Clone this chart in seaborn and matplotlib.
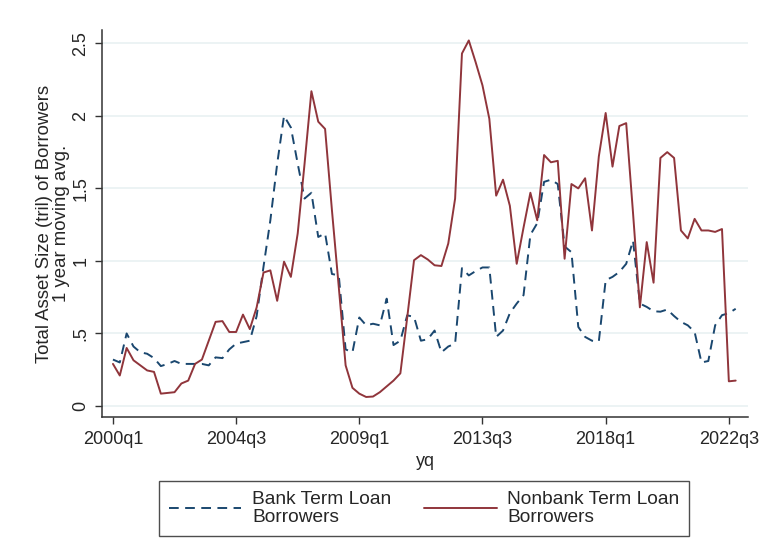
import matplotlib
matplotlib.use("Agg")
import matplotlib.pyplot as plt
import seaborn as sns
import pandas as pd
import numpy as np

# quarterly periods 2000q1 .. 2022q4
years = list(range(2000, 2023))
quarters = [f"{y}q{q}" for y in years for q in (1, 2, 3, 4)]

bank = [0.32, 0.30, 0.50, 0.41, 0.37, 0.36, 0.33, 0.275, 0.29, 0.31,
        0.29, 0.29, 0.29, 0.29, 0.28, 0.335, 0.33, 0.39, 0.43, 0.44,
        0.45, 0.62, 0.96, 1.28, 1.67, 2.00, 1.92, 1.67, 1.43, 1.47,
        1.165, 1.19, 0.91, 0.90, 0.39, 0.37, 0.61, 0.556, 0.567, 0.556,
        0.74, 0.42, 0.45, 0.625, 0.614, 0.45, 0.46, 0.52, 0.37, 0.41,
        0.43, 0.95, 0.90, 0.93, 0.955, 0.955, 0.476, 0.52, 0.64, 0.706,
        0.764, 1.18, 1.26, 1.545, 1.56, 1.53, 1.10, 1.06, 0.545, 0.476,
        0.45, 0.445, 0.867, 0.89, 0.924, 0.98, 1.14, 0.706, 0.683, 0.653,
        0.65, 0.665, 0.62, 0.58, 0.556, 0.51, 0.30, 0.31, 0.556, 0.626,
        0.64, 0.67]

nonbank = [0.29, 0.21, 0.40, 0.315, 0.28, 0.245, 0.235, 0.085, 0.09, 0.095,
           0.155, 0.175, 0.29, 0.32, 0.45, 0.58, 0.585, 0.51, 0.51, 0.63,
           0.53, 0.68, 0.92, 0.935, 0.725, 0.995, 0.89, 1.19, 1.67, 2.17,
           1.96, 1.91, 1.35, 0.82, 0.28, 0.125, 0.085, 0.062, 0.065, 0.095,
           0.135, 0.175, 0.225, 0.61, 1.005, 1.04, 1.01, 0.97, 0.965, 1.12,
           1.43, 2.43, 2.52, 2.37, 2.21, 1.98, 1.45, 1.56, 1.38, 0.98,
           1.23, 1.47, 1.28, 1.73, 1.68, 1.69, 1.015, 1.53, 1.50, 1.57,
           1.21, 1.72, 2.02, 1.65, 1.93, 1.95, 1.33, 0.68, 1.13, 0.85,
           1.71, 1.75, 1.71, 1.21, 1.155, 1.29, 1.21, 1.21, 1.20, 1.22,
           0.17, 0.175]

series_names = ["Bank Term Loan\nBorrowers", "Nonbank Term Loan\nBorrowers"]
x_tick_labels = ["2000q1", "2004q3", "2009q1", "2013q3", "2018q1", "2022q3"]
y_ticks = [0, 0.5, 1, 1.5, 2, 2.5]
y_tick_labels = ["0", ".5", "1", "1.5", "2", "2.5"]

n = len(quarters)
df = pd.DataFrame({
    "t": list(range(n)) * 2,
    "value": bank + nonbank,
    "series": [series_names[0]] * n + [series_names[1]] * n,
})

sns.set_theme(style="white")
plt.rcParams["font.family"] = ["Liberation Sans", "DejaVu Sans"]

fig = plt.figure(figsize=(7.62, 5.54), dpi=100)
ax = fig.add_axes([102 / 762, 1 - 417 / 554, 646 / 762, 387 / 554])

navy = "#1a476f"
maroon = "#90353b"
sns.lineplot(data=df, x="t", y="value", hue="series", style="series",
             palette={series_names[0]: navy, series_names[1]: maroon},
             dashes={series_names[0]: (5, 3.3), series_names[1]: ""},
             linewidth=1.4, ax=ax, legend=False)

ax.set_xlim(-1.6, 92.8)
ax.set_ylim(-0.076, 2.592)
ax.set_yticks(y_ticks)
ax.set_yticklabels(y_tick_labels, rotation=90, va="center", fontsize=13)
tick_pos = [quarters.index(l) for l in x_tick_labels]
ax.set_xticks(tick_pos)
ax.set_xticklabels(x_tick_labels, fontsize=13)
ax.yaxis.grid(True, color="#eaf2f3", linewidth=1.3)
ax.xaxis.grid(False)
for s in ["top", "right"]:
    ax.spines[s].set_visible(False)
for s in ["left", "bottom"]:
    ax.spines[s].set_color("#333333")
    ax.spines[s].set_linewidth(1.1)
ax.tick_params(axis="x", direction="out", length=5, width=1.0,
               color="#333333", bottom=True, pad=5)
ax.tick_params(axis="y", direction="out", length=5, width=1.0,
               color="#333333", left=True, pad=4)
ax.set_xlabel("yq", fontsize=13, labelpad=4)
ax.set_ylabel("Total Asset Size (tril) of Borrowers\n1 year moving avg.",
              fontsize=13.4, labelpad=2, linespacing=1.0)

handles = [
    plt.Line2D([], [], color=navy, linewidth=1.4, dashes=(5, 3.3)),
    plt.Line2D([], [], color=maroon, linewidth=1.4),
]
leg = fig.legend(handles, series_names, loc="center",
                 bbox_to_anchor=(424 / 762, 1 - 508.5 / 554), ncol=2,
                 fontsize=13.8, frameon=True, fancybox=False,
                 edgecolor="#222222", handlelength=3.8, columnspacing=1.7,
                 borderpad=0.5, handletextpad=0.55)
leg.get_frame().set_linewidth(1.0)
for t in leg.get_texts():
    t.set_linespacing(1.1)

fig.savefig("out.png", dpi=100)
